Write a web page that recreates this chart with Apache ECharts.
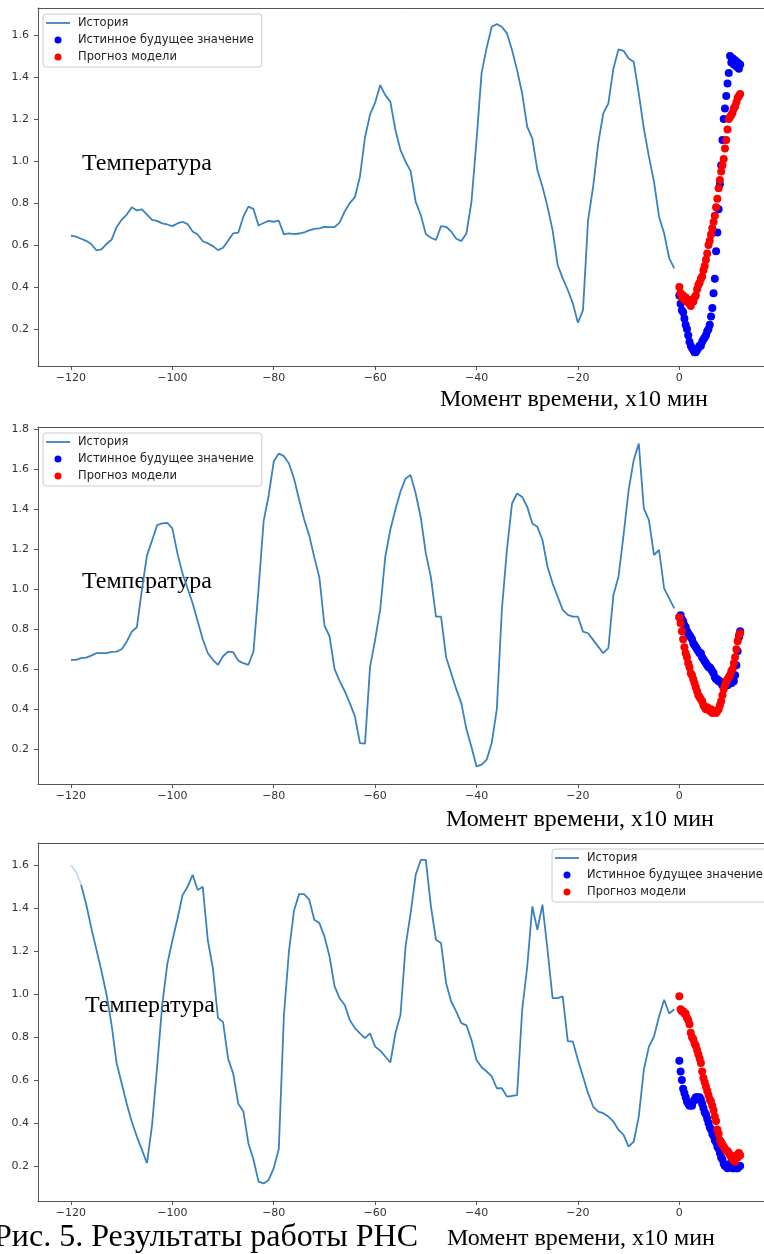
<!DOCTYPE html>
<html>
<head>
<meta charset="utf-8">
<script src="https://cdn.jsdelivr.net/npm/echarts@6/dist/echarts.min.js"></script>
<style>
  html, body { margin: 0; padding: 0; background: #fff; }
  #main { width: 764px; height: 1254px; }
</style>
</head>
<body>
<div id="main"></div>
<script>
// time steps, x10 min
let histX = [-120,-119,-118,-117,-116,-115,-114,-113,-112,-111,-110,-109,-108,-107,-106,-105,-104,-103,-102,-101,
  -100,-99,-98,-97,-96,-95,-94,-93,-92,-91,-90,-89,-88,-87,-86,-85,-84,-83,-82,-81,
  -80,-79,-78,-77,-76,-75,-74,-73,-72,-71,-70,-69,-68,-67,-66,-65,-64,-63,-62,-61,
  -60,-59,-58,-57,-56,-55,-54,-53,-52,-51,-50,-49,-48,-47,-46,-45,-44,-43,-42,-41,
  -40,-39,-38,-37,-36,-35,-34,-33,-32,-31,-30,-29,-28,-27,-26,-25,-24,-23,-22,-21,
  -20,-19,-18,-17,-16,-15,-14,-13,-12,-11,-10,-9,-8,-7,-6,-5,-4,-3,-2,-1]
let futureX = [0,0.25,0.5,0.75,1,1.25,1.5,1.75,2,2.25,2.5,2.75,3,3.25,3.5,3.75,4,4.25,4.5,4.75,
  5,5.25,5.5,5.75,6,6.25,6.5,6.75,7,7.25,7.5,7.75,8,8.25,8.5,8.75,9,9.25,9.5,9.75,
  10,10.25,10.5,10.75,11,11.25,11.5,11.75,12]

let xTicks = [-120, -100, -80, -60, -40, -20, 0]
let yTicks1 = [0.2, 0.4, 0.6, 0.8, 1.0, 1.2, 1.4, 1.6]
let yTicks2 = [0.2, 0.4, 0.6, 0.8, 1.0, 1.2, 1.4, 1.6, 1.8]
let yTicks3 = [0.2, 0.4, 0.6, 0.8, 1.0, 1.2, 1.4, 1.6]

let hist1 = [0.645,0.640,0.630,0.620,0.605,0.575,0.580,0.605,0.625,0.685,0.720,0.745,0.780,0.765,0.770,0.745,0.720,0.715,0.703,0.698,
  0.690,0.703,0.711,0.700,0.665,0.650,0.618,0.608,0.595,0.576,0.587,0.621,0.656,0.659,0.735,0.783,0.772,0.693,0.705,0.715,
  0.711,0.716,0.651,0.656,0.652,0.655,0.660,0.670,0.677,0.679,0.687,0.685,0.686,0.707,0.760,0.800,0.828,0.926,1.113,1.222,
  1.278,1.362,1.314,1.283,1.148,1.052,0.997,0.952,0.806,0.743,0.652,0.635,0.624,0.690,0.687,0.665,0.630,0.619,0.655,0.806,
  1.100,1.420,1.540,1.640,1.652,1.640,1.608,1.529,1.433,1.322,1.163,1.108,0.957,0.878,0.783,0.671,0.505,0.441,0.386,0.322,
  0.230,0.290,0.719,0.878,1.084,1.227,1.275,1.441,1.532,1.525,1.489,1.473,1.322,1.156,1.021,0.902,0.735,0.656,0.537,0.489]
let truth1 = [0.36,0.32,0.29,0.28,0.25,0.22,0.20,0.17,0.14,0.12,0.11,0.10,0.09,0.09,0.10,0.11,0.12,0.12,0.14,0.15,
  0.16,0.17,0.19,0.20,0.22,0.26,0.30,0.37,0.44,0.57,0.66,0.77,0.89,0.98,1.10,1.20,1.25,1.31,1.37,1.42,
  1.50,1.47,1.49,1.46,1.48,1.45,1.47,1.44,1.46]
let pred1 = [0.40,0.37,0.35,0.36,0.34,0.35,0.33,0.34,0.32,0.31,0.34,0.33,0.35,0.36,0.39,0.41,0.42,0.44,0.45,0.48,
  0.50,0.53,0.56,0.60,0.62,0.65,0.68,0.71,0.74,0.78,0.82,0.87,0.91,0.95,0.98,1.01,1.06,1.10,1.15,1.20,
  1.21,1.22,1.23,1.25,1.26,1.28,1.30,1.31,1.32]

let hist2 = [0.647,0.647,0.655,0.658,0.668,0.680,0.680,0.680,0.687,0.688,0.700,0.738,0.788,0.810,1.000,1.170,1.245,1.322,1.330,1.333,
  1.305,1.180,1.080,1.005,0.930,0.840,0.750,0.680,0.647,0.622,0.665,0.688,0.685,0.643,0.630,0.622,0.688,1.000,1.340,1.470,
  1.640,1.680,1.667,1.630,1.555,1.450,1.350,1.270,1.160,1.060,0.820,0.765,0.600,0.540,0.490,0.430,0.365,0.230,0.227,0.613,
  0.747,0.900,1.163,1.300,1.400,1.490,1.555,1.572,1.480,1.360,1.180,1.060,0.863,0.863,0.660,0.580,0.500,0.430,0.300,0.210,
  0.113,0.122,0.147,0.230,0.400,0.900,1.200,1.430,1.480,1.463,1.413,1.330,1.313,1.247,1.113,1.030,0.963,0.897,0.872,0.863,
  0.863,0.788,0.780,0.747,0.713,0.680,0.705,0.972,1.063,1.272,1.497,1.647,1.730,1.405,1.347,1.172,1.197,1.005,0.955,0.905]
let truth2 = [0.86,0.87,0.85,0.84,0.82,0.81,0.79,0.78,0.77,0.76,0.75,0.73,0.72,0.71,0.70,0.69,0.68,0.68,0.66,0.65,
  0.64,0.63,0.62,0.61,0.61,0.60,0.59,0.58,0.56,0.55,0.55,0.54,0.54,0.53,0.52,0.53,0.52,0.53,0.52,0.53,
  0.54,0.53,0.55,0.54,0.57,0.62,0.69,0.76,0.79]
let pred2 = [0.86,0.83,0.79,0.75,0.71,0.68,0.66,0.63,0.61,0.58,0.57,0.55,0.53,0.51,0.49,0.47,0.46,0.45,0.44,0.42,
  0.41,0.40,0.41,0.40,0.39,0.40,0.38,0.39,0.39,0.38,0.39,0.40,0.42,0.44,0.47,0.50,0.52,0.54,0.55,0.56,
  0.57,0.59,0.60,0.63,0.66,0.70,0.74,0.77,0.78]

let hist3 = [1.600,1.570,1.510,1.420,1.310,1.210,1.110,1.000,0.860,0.680,0.585,0.490,0.406,0.337,0.275,0.213,0.390,0.663,0.950,1.140,
  1.250,1.350,1.460,1.500,1.556,1.485,1.500,1.250,1.120,0.890,0.870,0.700,0.630,0.490,0.455,0.305,0.230,0.127,0.119,0.135,
  0.190,0.280,0.900,1.200,1.390,1.466,1.466,1.440,1.347,1.331,1.269,1.176,1.036,0.981,0.950,0.880,0.842,0.818,0.795,0.818,
  0.756,0.737,0.710,0.682,0.818,0.904,1.223,1.378,1.556,1.625,1.625,1.409,1.254,1.238,1.051,0.966,0.919,0.865,0.855,0.787,
  0.694,0.660,0.640,0.617,0.562,0.562,0.523,0.526,0.530,0.927,1.129,1.409,1.300,1.417,1.207,0.982,0.982,0.990,0.780,0.780,
  0.694,0.617,0.539,0.477,0.453,0.446,0.430,0.407,0.368,0.345,0.290,0.313,0.430,0.648,0.756,0.803,0.896,0.974,0.910,0.930]
let truth3 = [0.69,0.64,0.60,0.56,0.54,0.52,0.50,0.49,0.48,0.49,0.48,0.50,0.51,0.52,0.52,0.51,0.52,0.51,0.49,0.47,
  0.45,0.44,0.42,0.40,0.38,0.37,0.35,0.34,0.32,0.31,0.29,0.28,0.26,0.24,0.23,0.21,0.20,0.20,0.19,0.20,
  0.21,0.20,0.19,0.19,0.20,0.19,0.19,0.20,0.20]
let pred3 = [0.99,0.93,0.92,0.92,0.91,0.91,0.89,0.88,0.86,0.82,0.80,0.79,0.77,0.76,0.74,0.72,0.70,0.68,0.64,0.61,
  0.59,0.57,0.55,0.53,0.51,0.50,0.48,0.46,0.43,0.41,0.37,0.35,0.32,0.31,0.30,0.29,0.28,0.27,0.27,0.26,
  0.25,0.24,0.23,0.24,0.22,0.25,0.24,0.26,0.25]

const HIST = 'История'
const TRUTH = 'Истинное будущее значение'
const PRED = 'Прогноз модели'

const AXIS_COLOR = '#555'
const LINE_COLOR = '#3a82bf'
const X_MIN = -126.5
const X_MAX = 16.7   // right spine falls just outside the picture

function pairs(xs, ys) {
    return ys.map((v, i) => [xs[i], v])
}

function xAxisFor(idx) {
    return {
        type: 'value', gridIndex: idx, min: X_MIN, max: X_MAX, position: 'bottom',
        axisLine: {show: true, onZero: false, lineStyle: {color: AXIS_COLOR}},
        axisTick: {show: true, length: 4, lineStyle: {color: AXIS_COLOR}, customValues: xTicks},
        axisLabel: {
            customValues: xTicks, margin: 7, color: '#333', fontSize: 11, fontFamily: 'DejaVu Sans',
            formatter: v => v < 0 ? '\u2212' + Math.abs(v) : String(v)
        },
        splitLine: {show: false}
    }
}

// top spine only
function topAxisFor(idx) {
    return {
        type: 'value', gridIndex: idx, min: X_MIN, max: X_MAX, position: 'top',
        axisLine: {show: true, onZero: false, lineStyle: {color: AXIS_COLOR}},
        axisTick: {show: false}, axisLabel: {show: false}, splitLine: {show: false}
    }
}

function yAxisFor(idx, min, max, ticks) {
    return {
        type: 'value', gridIndex: idx, min: min, max: max,
        axisLine: {show: true, onZero: false, lineStyle: {color: AXIS_COLOR}},
        axisTick: {show: true, length: 4, lineStyle: {color: AXIS_COLOR}, customValues: ticks},
        axisLabel: {
            customValues: ticks, margin: 9, color: '#333', fontSize: 11, fontFamily: 'DejaVu Sans',
            formatter: v => v.toFixed(1)
        },
        splitLine: {show: false}
    }
}

function lineSeries(idx, name, data, color) {
    return {
        name: name, type: 'line', xAxisIndex: idx, yAxisIndex: idx, data: data,
        symbol: 'none', lineStyle: {color: color, width: 1.8}, itemStyle: {color: color},
        silent: true
    }
}

function dotSeries(idx, name, data, color) {
    return {
        name: name, type: 'scatter', xAxisIndex: idx, yAxisIndex: idx, data: data,
        symbol: 'circle', symbolSize: 8, itemStyle: {color: color, opacity: 1}, silent: true
    }
}

function legendAt(left, top) {
    return {
        data: [
            {name: HIST, icon: 'path://M0,0L24,0L24,1.8L0,1.8Z'},
            {name: TRUTH, icon: 'circle'},
            {name: PRED, icon: 'circle'}
        ],
        orient: 'vertical', left: left, top: top,
        itemWidth: 24, itemHeight: 7, itemGap: 3, selectedMode: false,
        padding: [2, 8, 3, 3], borderColor: '#ccc', borderWidth: 1, borderRadius: 3,
        backgroundColor: 'rgba(255,255,255,0.85)',
        textStyle: {fontSize: 11.5, fontFamily: 'DejaVu Sans', color: '#222', lineHeight: 14, padding: [0, 0, 0, 3]}
    }
}

function serifText(x, y, text, size, align) {
    return {
        type: 'text', x: x, y: y,
        style: {text: text, font: size + 'px "Liberation Serif", "Times New Roman", serif',
            fill: '#000', align: align || 'left', verticalAlign: 'middle'}
    }
}

let option = {
    animation: false,
    backgroundColor: '#fff',
    grid: [
        {left: 38, top: 8, width: 726, height: 358},
        {left: 38, top: 427, width: 726, height: 357},
        {left: 38, top: 843, width: 726, height: 358}
    ],
    xAxis: [xAxisFor(0), xAxisFor(1), xAxisFor(2), topAxisFor(0), topAxisFor(1), topAxisFor(2)],
    yAxis: [
        yAxisFor(0, 0.024, 1.729, yTicks1),
        yAxisFor(1, 0.025, 1.813, yTicks2),
        yAxisFor(2, 0.037, 1.704, yTicks3)
    ],
    legend: [legendAt(43, 14), legendAt(43, 433), legendAt(552, 849)],
    series: [
        lineSeries(0, HIST, pairs(histX, hist1), LINE_COLOR),
        dotSeries(0, TRUTH, pairs(futureX, truth1), '#0000ff'),
        dotSeries(0, PRED, pairs(futureX, pred1), '#ff0000'),

        lineSeries(1, HIST, pairs(histX, hist2), LINE_COLOR),
        dotSeries(1, TRUTH, pairs(futureX, truth2), '#0000ff'),
        dotSeries(1, PRED, pairs(futureX, pred2), '#ff0000'),

        // first steps of the third history look washed out in the picture
        lineSeries(2, 'fade', pairs(histX.slice(0, 3), hist3.slice(0, 3)), '#c6dcee'),
        lineSeries(2, HIST, pairs(histX.slice(2), hist3.slice(2)), LINE_COLOR),
        dotSeries(2, TRUTH, pairs(futureX, truth3), '#0000ff'),
        dotSeries(2, PRED, pairs(futureX, pred3), '#ff0000')
    ],
    graphic: [
        serifText(82, 164, 'Температура', 24),
        serifText(82, 582, 'Температура', 24),
        serifText(85, 1006, 'Температура', 24),
        serifText(574, 400, 'Момент времени, х10 мин', 24, 'center'),
        serifText(580, 820, 'Момент времени, х10 мин', 24, 'center'),
        serifText(581, 1239, 'Момент времени, х10 мин', 24, 'center'),
        serifText(-6, 1238, 'Рис. 5. Результаты работы РНС', 32)
    ]
}

let chart = echarts.init(document.getElementById('main'), null, {renderer: 'canvas'})
chart.setOption(option)
</script>
</body>
</html>
